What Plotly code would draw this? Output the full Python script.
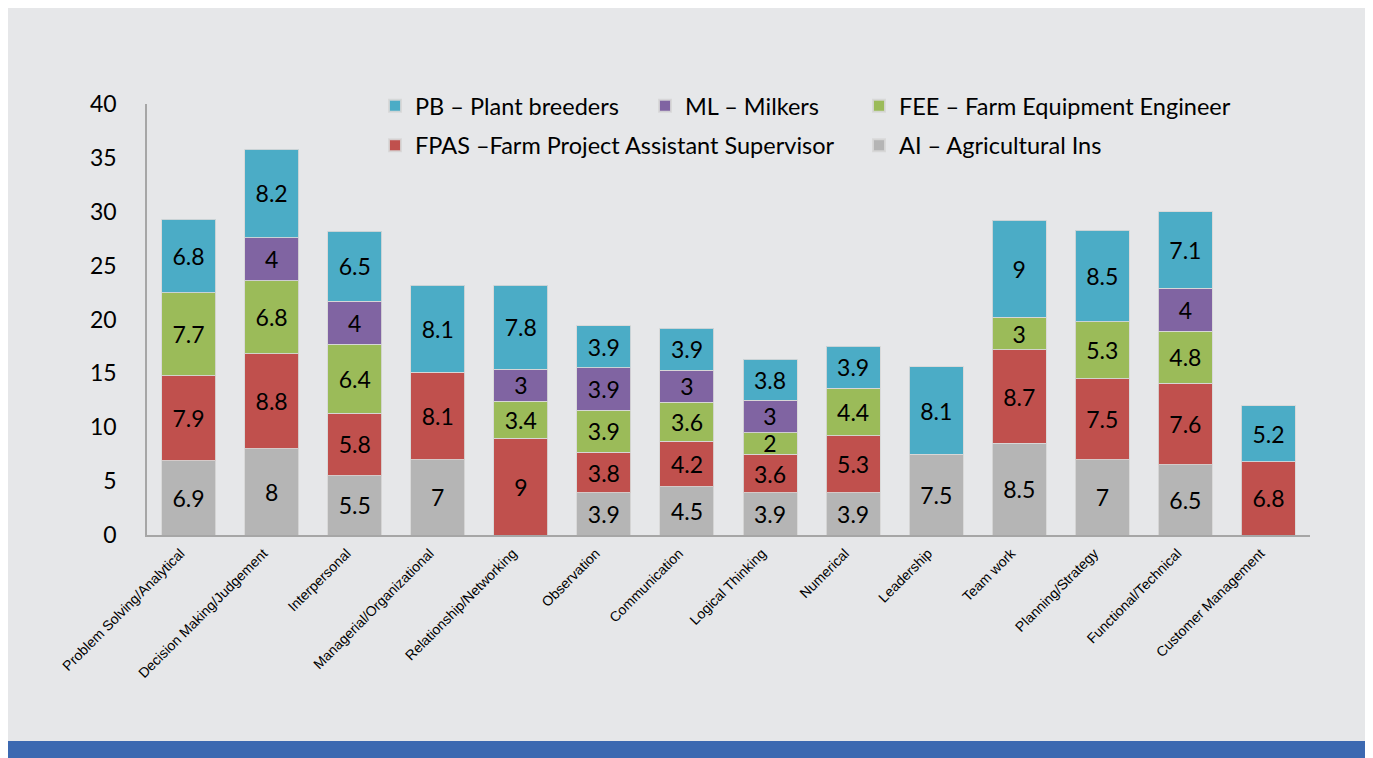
import plotly.graph_objects as go

categories = ["Problem Solving/Analytical", "Decision Making/Judgement", "Interpersonal",
              "Managerial/Organizational", "Relationship/Networking", "Observation",
              "Communication", "Logical Thinking", "Numerical", "Leadership", "Team work",
              "Planning/Strategy", "Functional/Technical", "Customer Management"]

ai   = [6.9, 8,   5.5, 7,    None, 3.9, 4.5, 3.9, 3.9, 7.5,  8.5, 7,   6.5, None]
fpas = [7.9, 8.8, 5.8, 8.1,  9,    3.8, 4.2, 3.6, 5.3, None, 8.7, 7.5, 7.6, 6.8]
fee  = [7.7, 6.8, 6.4, None, 3.4,  3.9, 3.6, 2,   4.4, None, 3,   5.3, 4.8, None]
ml   = [None, 4,  4,   None, 3,    3.9, 3,   3,   None, None, None, None, 4, None]
pb   = [6.8, 8.2, 6.5, 8.1,  7.8,  3.9, 3.9, 3.8, 3.9, 8.1,  9,   8.5, 7.1, 5.2]

series = [
    ("AI – Agricultural Ins", ai, "#B5B5B5", "legend3", 2),
    ("FPAS –Farm Project Assistant Supervisor", fpas, "#C0504D", "legend", 2),
    ("FEE – Farm Equipment Engineer", fee, "#9BBB59", "legend3", 1),
    ("ML – Milkers", ml, "#8064A2", "legend2", 1),
    ("PB – Plant breeders", pb, "#4BACC6", "legend", 1),
]

fig = go.Figure()
for name, vals, color, lg, rank in series:
    fig.add_trace(go.Bar(
        x=categories, y=vals, name=name, legend=lg,
        legendrank=rank, legendgroup=name,
        marker=dict(color=color, line=dict(color="rgba(215,215,215,0.9)", width=1)),
        text=[("" if v is None else f"{v:g}") for v in vals],
        textposition="inside", insidetextanchor="middle", textangle=0,
        textfont=dict(family="Lato", size=23, color="black"),
        hoverinfo="x+y+name",
    ))

# page body has an 8px margin; work in screen pixels and convert
OFF = 8
W, H = 1373 - OFF, 758 - OFF
L, R, T, B = 147 - OFF, 1310 - OFF, 104 - OFF, 535 - OFF
pw, ph = R - L, B - T
def px(x): return (x - OFF - L) / pw
def py(y): return (B - (y - OFF)) / ph

legend_common = dict(orientation="v", font=dict(family="Lato", size=23.5, color="black"),
                     bgcolor="rgba(0,0,0,0)", xanchor="left", yanchor="top",
                     traceorder="grouped", tracegroupgap=6, itemsizing="constant")

fig.update_layout(
    width=W, height=H,
    margin=dict(l=L, r=W - R, t=T, b=H - B),
    barmode="stack", bargap=0.35,
    paper_bgcolor="white", plot_bgcolor="rgba(0,0,0,0)",
    uniformtext=dict(minsize=22, mode="show"),
    showlegend=True,
    legend=dict(x=px(375), y=py(84), **legend_common),
    legend2=dict(x=px(645), y=py(84), **legend_common),
    legend3=dict(x=px(859), y=py(84), **legend_common),
    xaxis=dict(showline=True, linecolor="#A6A6A6", linewidth=1.5, tickangle=-45,
               tickfont=dict(family="Liberation Sans", size=14, color="black"),
               ticks="", showgrid=False, ticklabelshift=-8, ticklabelstandoff=3),
    yaxis=dict(range=[0, 40], dtick=5, showline=True, linecolor="#A6A6A6", linewidth=1.5,
               showgrid=False, zeroline=False, ticks="", ticklabelstandoff=24,
               tickfont=dict(family="Lato", size=23, color="black")),
    shapes=[
        dict(type="rect", xref="paper", yref="paper", layer="below",
             x0=px(6), x1=px(1368), y0=py(741), y1=py(8),
             fillcolor="#E6E7E9", line=dict(width=0)),
        dict(type="rect", xref="paper", yref="paper", layer="below",
             x0=px(6), x1=px(1368), y0=py(760), y1=py(741),
             fillcolor="#3C69B1", line=dict(width=0)),
    ],
)

fig.write_html("out.html")
